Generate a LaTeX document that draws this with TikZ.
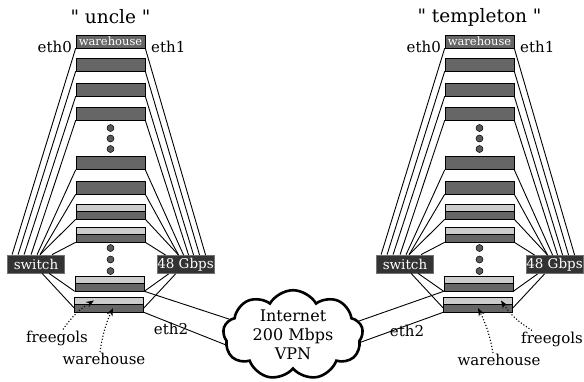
\documentclass[tikz,border=0pt]{standalone}
\usepackage{fontspec}
\setmainfont{DejaVu Serif}[Ligatures=TeXOff]
\usetikzlibrary{shapes.symbols,arrows.meta}

\tikzset{
  blade/.style={draw, line width=0.6pt, fill=black!60, minimum width=69pt, minimum height=13pt, inner sep=0pt},
  halfup/.style={blade, fill=black!20, minimum height=7pt},
  halfdown/.style={blade, minimum height=8pt},
  hub/.style={draw=black!55, line width=0.8pt, fill=black!80, text=white, font=\fontsize{13.5}{15}\selectfont, minimum width=57pt, minimum height=18pt, inner sep=0pt},
  link/.style={line width=0.9pt},
  ptr/.style={dotted, line width=1.1pt, -{Stealth[length=8pt,width=6pt]}},
  lbl/.style={font=\fontsize{15}{17}\selectfont, inner sep=1pt},
  dotx/.style={circle, draw, line width=0.5pt, fill=black!65, minimum size=7pt, inner sep=0pt},
}

\begin{document}
\begin{tikzpicture}[x=1pt, y=-1pt]
  \useasboundingbox (0,0) rectangle (584,381);

  % two clusters, same layout
  \foreach \p/\dx/\t in {L/0/uncle, R/369/templeton} {
    \begin{scope}[xshift=\dx pt]
      \node[font=\fontsize{18.5}{20}\selectfont] (\p-title) at (110.5,17) {" \t{} "};
      % blades
      \node[blade, text=white, font=\fontsize{11.5}{12}\selectfont] (\p-b1) at (110.5,41.5) {warehouse};
      \node[blade] (\p-b2) at (110.5,64.5) {};
      \node[blade] (\p-b3) at (110.5,89.5) {};
      \node[blade] (\p-b4) at (110.5,113.5) {};
      \node[blade] (\p-b5) at (110.5,163) {};
      \node[blade] (\p-b6) at (110.5,187.5) {};
      \node[halfup] (\p-b7u) at (110.5,207.5) {};
      \node[halfdown] (\p-b7) at (110.5,215) {};
      \node[halfup] (\p-b8u) at (110.5,230.5) {};
      \node[halfdown] (\p-b8) at (110.5,238) {};
      \node[halfup] (\p-b9u) at (109.5,279.5) {};
      \node[halfdown] (\p-b9) at (109.5,287) {};
      \node[halfup] (\p-b10u) at (109,300.5) {};
      \node[halfdown] (\p-b10) at (109,308) {};
      % dots
      \foreach \y in {128,138.5,149,248,259.5,271}
        \node[dotx] at (110.5,\y) {};
      % switches
      \node[hub] (\p-sw) at (36,264) {switch};
      \node[hub] (\p-gb) at (185.5,264.5) {48 Gbps};
      \node[lbl, anchor=east] (\p-e0) at (73,46.5) {eth0};
      \node[lbl, anchor=west] (\p-e1) at (150,46.5) {eth1};
      % fan of cables
      \foreach \i/\s/\g in {1/5/49, 2/11/43, 3/17/37, 4/24/32, 5/30/27, 6/33/22, 7/33/22, 8/45/9}
        \draw[link] (\p-b\i.south west) -- ([xshift=\s pt]\p-sw.north west)
                    (\p-b\i.south east) -- ([xshift=\g pt]\p-gb.north west);
      \draw[link] ([xshift=42pt]\p-sw.south west) -- (\p-b9.south west)
                  ([xshift=35pt]\p-sw.south west) -- (\p-b10.west)
                  ([xshift=12pt]\p-gb.south west) -- (\p-b9.south east)
                  ([xshift=19pt]\p-gb.south west) -- (\p-b10.east);
    \end{scope}
  }

  % internet
  \node[cloud, cloud puffs=9, cloud puff arc=120, aspect=1.6, draw, line width=2.6pt, fill=white,
        inner sep=0pt, align=center, font=\fontsize{16}{19}\selectfont,
        minimum width=140pt, minimum height=86pt] (net) at (293,335) {Internet\\200 Mbps\\VPN};
  \draw[link] (L-b9.south east) -- (net.166)
              (L-b10.south east) -- (net.188)
              (net.12) -- (R-b9.south west)
              (net.-6) -- (R-b10.south west);
  \node[lbl] (L-eth2) at (171,329) {eth2};
  \node[lbl] (R-eth2) at (407,331) {eth2};

  % labels
  \node[lbl] (L-fg) at (57,338) {freegols};
  \node[lbl] (L-wh) at (104,359) {warehouse};
  \node[lbl] (R-fg) at (552,339) {freegols};
  \node[lbl] (R-wh) at (499,360) {warehouse};
  \draw[ptr] ([xshift=6pt]L-fg.north) to[bend left=12] ([xshift=-15pt]L-b10u.center);
  \draw[ptr] ([xshift=-4pt]L-wh.north) to[bend left=8] ([xshift=4pt]L-b10.center);
  \draw[ptr] ([xshift=-20pt]R-fg.north) to[bend left=12] ([xshift=23pt]R-b10u.center);
  \draw[ptr] ([xshift=-6pt]R-wh.north) to[bend right=8] ([xshift=0pt]R-b10.center);
\end{tikzpicture}
\end{document}
